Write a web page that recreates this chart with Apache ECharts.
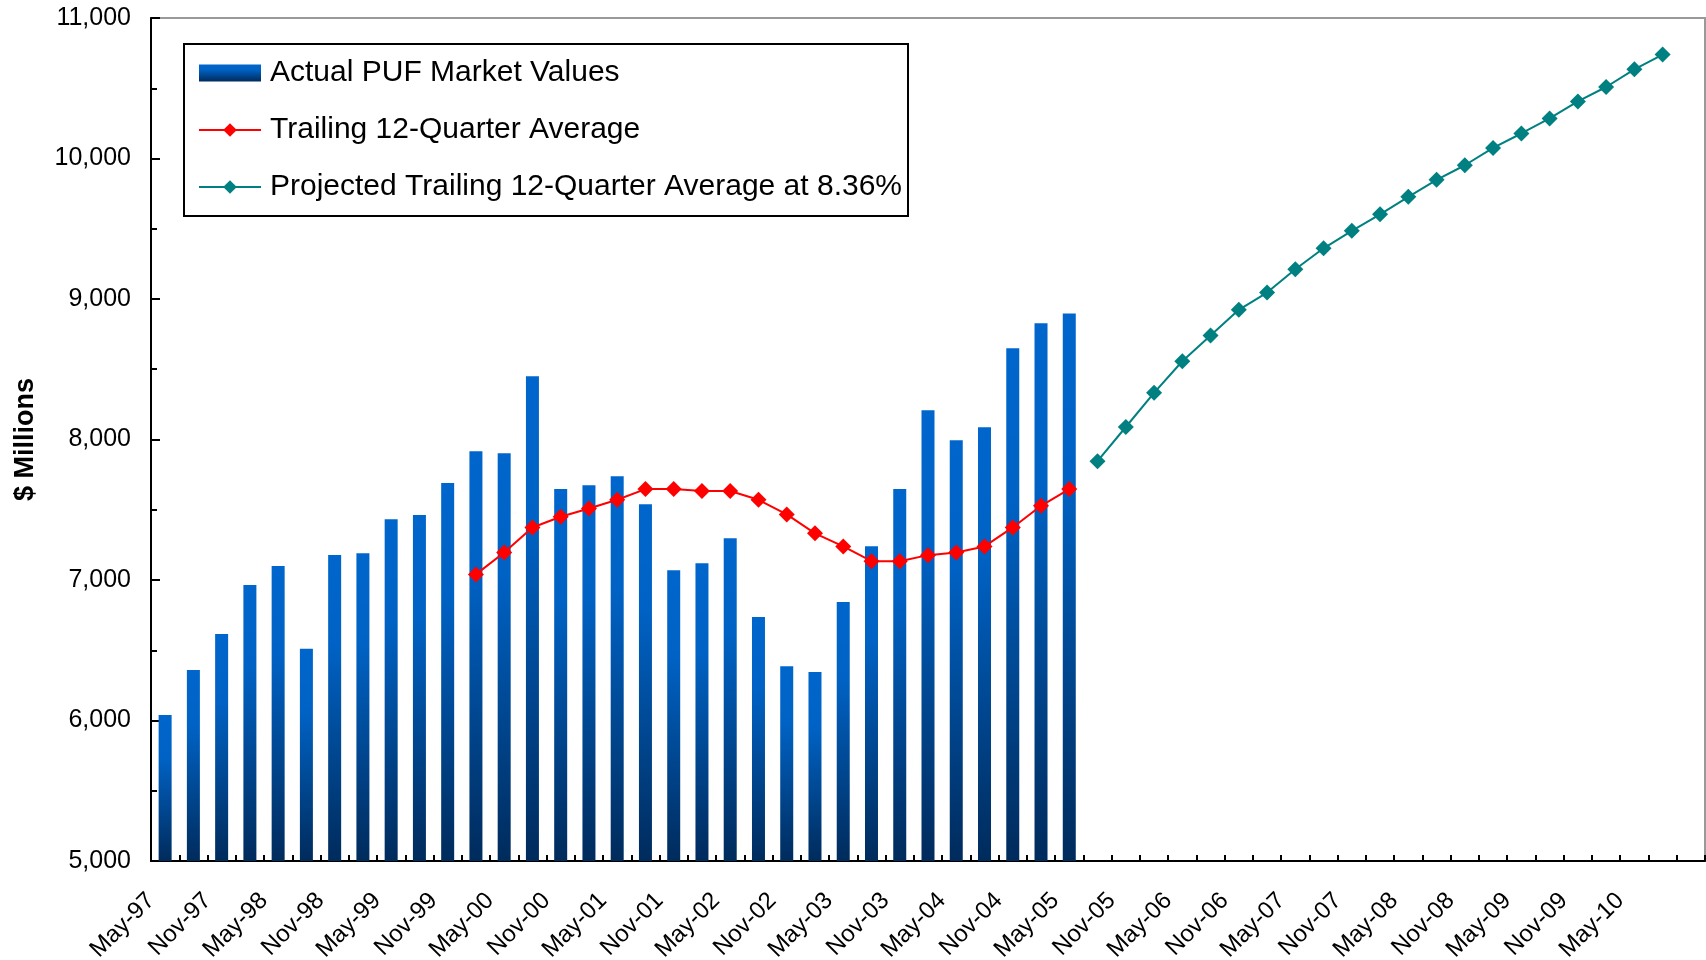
<!DOCTYPE html>
<html>
<head>
<meta charset="utf-8">
<script src="https://cdn.jsdelivr.net/npm/echarts@6/dist/echarts.min.js"></script>
<style>
html,body{margin:0;padding:0;background:#fff;}
#chart{width:1706px;height:960px;}
</style>
</head>
<body>
<div id="chart"></div>
<script>
// Quarterly categories (55 slots, last one empty)
const quarters = [
  'May-97','Aug-97','Nov-97',
  'Feb-98','May-98','Aug-98','Nov-98',
  'Feb-99','May-99','Aug-99','Nov-99',
  'Feb-00','May-00','Aug-00','Nov-00',
  'Feb-01','May-01','Aug-01','Nov-01',
  'Feb-02','May-02','Aug-02','Nov-02',
  'Feb-03','May-03','Aug-03','Nov-03',
  'Feb-04','May-04','Aug-04','Nov-04',
  'Feb-05','May-05','Aug-05','Nov-05',
  'Feb-06','May-06','Aug-06','Nov-06',
  'Feb-07','May-07','Aug-07','Nov-07',
  'Feb-08','May-08','Aug-08','Nov-08',
  'Feb-09','May-09','Aug-09','Nov-09',
  'Feb-10','May-10','Aug-10','Nov-10'
];

// Tick labels shown on the axis (every second tick mark)
const tickLabels = [
  'May-97','Nov-97','May-98','Nov-98','May-99','Nov-99','May-00','Nov-00',
  'May-01','Nov-01','May-02','Nov-02','May-03','Nov-03','May-04','Nov-04',
  'May-05','Nov-05','May-06','Nov-06','May-07','Nov-07','May-08','Nov-08',
  'May-09','Nov-09','May-10'
];

// Actual PUF market values ($ millions), starting at first quarter
const actualValues = [
  6040, 6360, 6615, 6965, 7100, 6510, 7178, 7190, 7433, 7462,
  7690, 7917, 7903, 8451, 7647, 7675, 7739, 7540, 7070, 7120,
  7298, 6736, 6387, 6345, 6843, 7241, 7647, 8209, 7995, 8088,
  8650, 8828, 8897
];

// Trailing 12-quarter average, starting at quarter index 11
const trailingStart = 11;
const trailingAvg = [
  7040, 7196, 7374, 7450, 7509, 7571, 7647, 7647, 7633, 7633,
  7571, 7467, 7332, 7239, 7134, 7134, 7177, 7196, 7239, 7374,
  7528, 7647
];

// Projected trailing 12-quarter average at 8.36%, starting at quarter index 33
const projectedStart = 33;
const projectedAvg = [
  7846, 8089, 8332, 8557, 8740, 8923, 9046, 9212, 9361, 9485,
  9603, 9727, 9848, 9952, 10075, 10178, 10285, 10406, 10509, 10635,
  10740
];

// Build padded series data from the arrays above
const n = quarters.length;
function pad(arr, start) {
  const out = new Array(n).fill(null);
  arr.forEach((v, i) => { out[start + i] = v; });
  return out;
}
const barData = pad(actualValues, 0);
const trailData = pad(trailingAvg, trailingStart);
const projData = pad(projectedAvg, projectedStart);

// Boundary axis (tick marks between categories), labels on every 2nd boundary
const boundaryKeys = [];
const boundaryLabel = {};
for (let i = 0; i <= n; i++) {
  const k = 'b' + i;
  boundaryKeys.push(k);
  boundaryLabel[k] = (i % 2 === 0 && tickLabels[i / 2]) ? tickLabels[i / 2] : '';
}

const FONT = '"Liberation Sans", Arial, Helvetica, sans-serif';

const chart = echarts.init(document.getElementById('chart'), null, {renderer: 'canvas'});

const barGradient = new echarts.graphic.LinearGradient(0, 0, 0, 1, [
  {offset: 0, color: '#0066CC'},
  {offset: 0.3, color: '#0062C4'},
  {offset: 1, color: '#002B5C'}
]);

chart.setOption({
  animation: false,
  backgroundColor: '#fff',
  textStyle: {fontFamily: FONT},
  grid: {
    left: 151, right: 1, top: 18, bottom: 99,
    containLabel: false,
    outerBoundsMode: 'none',
    show: true,
    borderColor: '#999',
    borderWidth: 2,
    backgroundColor: 'transparent'
  },
  legend: {
    orient: 'vertical',
    left: 184,
    top: 44,
    padding: [14, 6, 14, 14],
    itemGap: 27,
    itemWidth: 62,
    itemHeight: 17,
    borderColor: '#000',
    borderWidth: 2,
    backgroundColor: '#fff',
    selectedMode: false,
    textStyle: {fontSize: 30, color: '#000', fontFamily: FONT, lineHeight: 30, padding: [0, 0, 0, 4]},
    data: [
      {name: 'Actual PUF Market Values', icon: 'rect'},
      {name: 'Trailing 12-Quarter Average'},
      {name: 'Projected Trailing 12-Quarter Average at 8.36%'}
    ]
  },
  xAxis: [
    {
      type: 'category',
      data: quarters,
      boundaryGap: true,
      show: false
    },
    {
      type: 'category',
      data: boundaryKeys,
      boundaryGap: false,
      position: 'bottom',
      axisLine: {show: true, onZero: false, lineStyle: {color: '#000', width: 2}},
      axisTick: {show: true, inside: true, length: 6, interval: 0, lineStyle: {color: '#000', width: 2}},
      splitLine: {show: false},
      axisLabel: {
        show: true,
        interval: 0,
        rotate: 45,
        margin: 36,
        fontSize: 24,
        color: '#000',
        fontFamily: FONT,
        hideOverlap: false,
        formatter: function (v) { return boundaryLabel[v] || ''; }
      }
    }
  ],
  yAxis: {
    type: 'value',
    min: 5000,
    max: 11000,
    interval: 1000,
    axisLine: {show: true, lineStyle: {color: '#000', width: 2}},
    axisTick: {show: true, inside: true, length: 9, lineStyle: {color: '#000', width: 2}},
    minorTick: {show: true, splitNumber: 2, length: 6, lineStyle: {color: '#000', width: 2}},
    splitLine: {show: false},
    axisLabel: {
      color: '#000', fontSize: 25, margin: 20, fontFamily: FONT,
      showMinLabel: true, showMaxLabel: true,
      formatter: function (v) { return v.toLocaleString('en-US'); }
    },
    name: '$ Millions',
    nameLocation: 'middle',
    nameGap: 112,
    nameTextStyle: {fontSize: 27, fontWeight: 'bold', color: '#000', fontFamily: FONT}
  },
  series: [
    {
      name: 'Actual PUF Market Values',
      type: 'bar',
      xAxisIndex: 0,
      data: barData,
      barWidth: 13,
      itemStyle: {color: barGradient}
    },
    {
      name: 'Trailing 12-Quarter Average',
      type: 'line',
      xAxisIndex: 0,
      data: trailData,
      symbol: 'diamond',
      symbolSize: 16,
      showAllSymbol: true,
      lineStyle: {color: '#FF0000', width: 2},
      itemStyle: {color: '#FF0000'}
    },
    {
      name: 'Projected Trailing 12-Quarter Average at 8.36%',
      type: 'line',
      xAxisIndex: 0,
      data: projData,
      symbol: 'diamond',
      symbolSize: 16,
      showAllSymbol: true,
      lineStyle: {color: '#008080', width: 2},
      itemStyle: {color: '#008080'}
    }
  ]
});
</script>
</body>
</html>
